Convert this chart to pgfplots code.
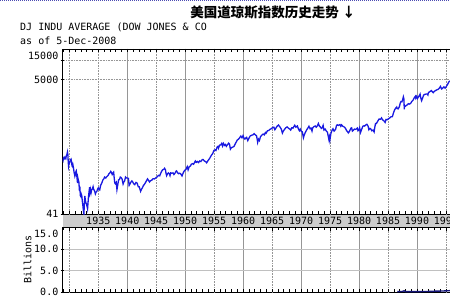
\documentclass[border=0pt]{standalone}
\usepackage{fontspec}
\usepackage{pgfplots}
\pgfplotsset{compat=1.18}
\setmainfont{DejaVu Sans Mono}
\newfontfamily\mono{DejaVu Sans Mono}
\newfontfamily\cjk{Noto Sans CJK SC}
\definecolor{gridc}{RGB}{150,150,150}
\definecolor{linec}{RGB}{25,25,225}
\definecolor{volc}{RGB}{20,20,120}
\begin{document}
\begin{tikzpicture}[x=1pt,y=1pt]
\path[use as bounding box, clip] (0,0) rectangle (450,300);
\fill[white] (0,0) rectangle (450,300);
\draw[blue!40!gray, densely dotted, line width=1pt] (0,299.6) -- (450,299.6);
% header texts
\node[anchor=center, font=\cjk\bfseries\fontsize{13.5}{14}\selectfont] at (273,288) {美国道琼斯指数历史走势 ↓};
\node[anchor=base west, inner sep=0pt, font=\mono\fontsize{10}{10}\selectfont] at (20,269.3) {DJ INDU AVERAGE (DOW JONES \& CO};
\node[anchor=base west, inner sep=0pt, font=\mono\fontsize{10}{10}\selectfont] at (20,255.5) {as of 5-Dec-2008};
% band between the two panels
\fill[black!20] (62.7,72.7) rectangle (530,85.7);
\begin{axis}[
  at={(62.7pt,85.7pt)}, anchor=south west,
  scale only axis, width=464.4pt, height=165.3pt,
  xmin=1928.86, xmax=2009,
  ymode=log, ymin=41, ymax=15000,
  axis line style={black, line width=0.8pt},
  tick align=inside, major tick length=3.5pt, minor tick length=3pt,
  tick style={black, line width=0.6pt},
  xtick={1940,1950,...,2000},
  xticklabels={1940,1950,1960,1970,1980,1990,2000},
  minor xtick={1929,1930,...,2009},
  extra x ticks={1930,1935,1945,1955,1965,1975,1985,1995,2005},
  extra x tick labels={,1935,1945,1955,1965,1975,1985,1995,2005},
  extra x tick style={major grid style={gridc, densely dotted, line width=0.6pt}},
  xmajorgrids, major grid style={gridc, line width=0.6pt},
  xticklabel style={font=\mono\fontsize{10}{10}\selectfont, anchor=center, yshift=-6.8pt},
  ytick={41,5000,10000},
  yticklabels={41,5000,{}},
  ytick pos=left,
  ymajorgrids,
  y grid style={gridc, densely dotted, line width=0.6pt},
  yticklabel style={font=\mono\fontsize{10}{10}\selectfont, inner sep=1pt, xshift=-3.2pt},
  ytick style={xshift=-2pt},
  clip=true,
]
\addplot[linec, line width=1.3pt] coordinates {
(1928.86,290) (1928.92,280) (1929.0,305) (1929.1,315) (1929.2,300) (1929.3,310) (1929.4,300) (1929.5,335) (1929.6,350) (1929.68,381) (1929.75,350) (1929.82,260) (1929.87,230) (1929.92,245) (1930.0,250) (1930.1,270) (1930.25,290) (1930.3,294) (1930.4,260) (1930.47,230) (1930.55,225) (1930.62,240) (1930.7,220) (1930.8,190) (1930.9,170) (1930.96,160) (1931.05,170) (1931.15,190) (1931.2,194) (1931.3,160) (1931.42,125) (1931.48,150) (1931.55,140) (1931.65,130) (1931.75,95) (1931.82,110) (1931.9,80) (1931.97,78) (1932.05,85) (1932.15,80) (1932.25,65) (1932.35,55) (1932.45,45) (1932.52,41.5) (1932.6,60) (1932.68,79) (1932.75,70) (1932.85,62) (1932.95,60) (1933.05,55) (1933.15,50) (1933.22,60) (1933.3,75) (1933.4,90) (1933.5,108) (1933.55,90) (1933.65,100) (1933.75,88) (1933.85,98) (1933.95,100) (1934.1,110) (1934.2,100) (1934.35,95) (1934.5,85) (1934.6,90) (1934.75,93) (1934.9,102) (1935.0,105) (1935.15,100) (1935.25,98) (1935.4,115) (1935.6,125) (1935.8,140) (1935.95,145) (1936.1,155) (1936.3,150) (1936.4,155) (1936.55,160) (1936.7,165) (1936.85,175) (1937.0,180) (1937.15,190) (1937.25,185) (1937.4,170) (1937.55,180) (1937.65,185) (1937.75,150) (1937.85,125) (1937.95,122) (1938.1,128) (1938.22,99) (1938.35,115) (1938.5,140) (1938.65,142) (1938.8,155) (1938.95,152) (1939.1,145) (1939.28,121) (1939.4,130) (1939.55,135) (1939.7,155) (1939.85,150) (1940.0,150) (1940.2,148) (1940.32,115) (1940.45,120) (1940.6,128) (1940.8,135) (1940.95,130) (1941.1,122) (1941.3,118) (1941.5,128) (1941.7,125) (1941.9,110) (1942.05,110) (1942.2,100) (1942.3,93) (1942.45,100) (1942.6,105) (1942.8,115) (1942.95,119) (1943.1,125) (1943.3,135) (1943.5,145) (1943.65,138) (1943.85,130) (1944.0,136) (1944.2,138) (1944.45,146) (1944.7,145) (1944.9,150) (1945.05,153) (1945.25,160) (1945.45,165) (1945.6,162) (1945.75,175) (1945.95,192) (1946.1,200) (1946.3,205) (1946.45,212) (1946.6,200) (1946.7,175) (1946.8,163) (1946.95,175) (1947.1,180) (1947.25,175) (1947.38,163) (1947.5,180) (1947.7,178) (1947.9,180) (1948.05,170) (1948.25,178) (1948.4,190) (1948.5,193) (1948.7,180) (1948.85,175) (1949.0,178) (1949.2,175) (1949.45,161) (1949.6,175) (1949.8,190) (1949.95,198) (1950.15,205) (1950.35,225) (1950.5,200) (1950.7,225) (1950.9,230) (1951.05,245) (1951.25,250) (1951.45,245) (1951.6,260) (1951.75,275) (1951.9,262) (1952.1,270) (1952.3,260) (1952.5,275) (1952.7,270) (1952.95,290) (1953.1,290) (1953.3,275) (1953.5,270) (1953.7,258) (1953.95,280) (1954.2,300) (1954.5,335) (1954.75,360) (1954.95,400) (1955.15,410) (1955.3,400) (1955.55,460) (1955.72,465) (1955.76,440) (1955.95,485) (1956.15,490) (1956.3,515) (1956.45,470) (1956.6,515) (1956.8,480) (1956.95,495) (1957.1,465) (1957.5,520) (1957.65,500) (1957.8,420) (1957.95,440) (1958.15,450) (1958.4,460) (1958.6,500) (1958.8,540) (1958.98,580) (1959.2,600) (1959.45,640) (1959.6,670) (1959.8,630) (1959.98,680) (1960.15,620) (1960.3,600) (1960.45,625) (1960.6,640) (1960.8,570) (1960.98,615) (1961.2,670) (1961.45,690) (1961.6,695) (1961.75,705) (1961.9,730) (1962.1,700) (1962.3,680) (1962.45,580) (1962.5,535) (1962.65,600) (1962.8,570) (1962.98,650) (1963.2,690) (1963.45,720) (1963.65,700) (1963.85,760) (1963.95,740) (1964.2,810) (1964.45,820) (1964.6,850) (1964.85,870) (1965.05,900) (1965.3,920) (1965.47,840) (1965.65,890) (1965.85,950) (1966.1,995) (1966.3,940) (1966.45,900) (1966.6,850) (1966.77,745) (1966.9,790) (1967.1,840) (1967.35,900) (1967.6,930) (1967.75,900) (1967.9,875) (1968.05,860) (1968.2,830) (1968.4,900) (1968.6,890) (1968.9,985) (1969.1,920) (1969.35,960) (1969.55,860) (1969.7,810) (1969.85,860) (1970.0,800) (1970.2,780) (1970.4,630) (1970.55,700) (1970.75,770) (1970.98,840) (1971.2,900) (1971.35,950) (1971.55,870) (1971.7,890) (1971.88,800) (1971.98,890) (1972.2,940) (1972.45,960) (1972.6,920) (1972.8,960) (1972.98,1050) (1973.15,960) (1973.35,920) (1973.5,880) (1973.65,900) (1973.8,980) (1973.95,830) (1974.15,860) (1974.35,800) (1974.55,770) (1974.72,640) (1974.8,590) (1974.9,650) (1974.97,580) (1975.15,740) (1975.35,830) (1975.5,870) (1975.7,800) (1975.95,850) (1976.1,970) (1976.25,1000) (1976.45,980) (1976.7,1010) (1976.85,950) (1976.98,1000) (1977.2,950) (1977.5,920) (1977.7,870) (1977.85,810) (1978.0,790) (1978.15,750) (1978.3,780) (1978.6,890) (1978.72,900) (1978.85,800) (1979.0,820) (1979.2,860) (1979.45,850) (1979.7,890) (1979.82,810) (1979.98,840) (1980.1,900) (1980.25,760) (1980.45,850) (1980.65,950) (1980.9,970) (1980.98,960) (1981.2,1000) (1981.35,1020) (1981.55,960) (1981.7,840) (1981.85,880) (1981.98,875) (1982.2,810) (1982.4,830) (1982.6,777) (1982.7,900) (1982.85,1050) (1983.0,1050) (1983.2,1130) (1983.45,1230) (1983.7,1220) (1983.88,1280) (1984.05,1200) (1984.3,1150) (1984.5,1090) (1984.65,1210) (1984.85,1200) (1985.0,1230) (1985.25,1270) (1985.5,1330) (1985.75,1340) (1985.95,1540) (1986.15,1720) (1986.3,1800) (1986.5,1890) (1986.6,1780) (1986.75,1770) (1986.95,1900) (1987.1,2160) (1987.25,2300) (1987.4,2280) (1987.55,2500) (1987.65,2720) (1987.75,2500) (1987.8,1740) (1987.85,1940) (1987.98,1940) (1988.15,2000) (1988.35,2050) (1988.5,2130) (1988.7,2100) (1988.9,2150) (1989.1,2300) (1989.3,2400) (1989.5,2600) (1989.65,2720) (1989.75,2790) (1989.8,2600) (1989.95,2750) (1990.07,2560) (1990.25,2700) (1990.45,2900) (1990.53,2999) (1990.65,2620) (1990.8,2370) (1990.98,2630) (1991.15,2900) (1991.35,2970) (1991.55,3000) (1991.75,3010) (1991.88,2900) (1991.98,3170) (1992.2,3260) (1992.45,3400) (1992.6,3300) (1992.8,3150) (1992.98,3300) (1993.2,3400) (1993.45,3500) (1993.65,3550) (1993.85,3700) (1994.05,3950) (1994.25,3600) (1994.45,3720) (1994.65,3880) (1994.85,3700) (1994.98,3830) (1995.15,4050) (1995.35,4350) (1995.5,4650) (1995.65,4750) (1995.8,4830) (1995.95,5100) (1996.1,5400)
};
\end{axis}
\node[anchor=north east, inner sep=1pt, font=\mono\fontsize{10}{10}\selectfont] at (59.5,249.5) {15000};
\begin{axis}[
  at={(62.7pt,7.7pt)}, anchor=south west,
  scale only axis, width=464.4pt, height=65pt,
  xmin=1928.86, xmax=2009,
  ymin=0, ymax=15.1,
  axis line style={black, line width=0.8pt},
  tick align=inside, major tick length=3.5pt, minor tick length=3pt,
  tick style={black, line width=0.6pt},
  xtick={1940,1950,...,2000},
  xticklabels={},
  minor xtick={1929,1930,...,2009},
  extra x ticks={1930,1935,1945,1955,1965,1975,1985,1995,2005},
  extra x tick labels={},
  extra x tick style={major grid style={gridc, densely dotted, line width=0.6pt}},
  xmajorgrids, major grid style={gridc, line width=0.6pt},
  ytick={0,5,10},
  yticklabels={0.0,5.0,10.0},
  ytick pos=left,
  ymajorgrids,
  y grid style={gridc!60, line width=0.6pt},
  yticklabel style={font=\mono\fontsize{10}{10}\selectfont, inner sep=1pt, xshift=-3.2pt},
  ytick style={xshift=-2pt},
  ylabel={Billions},
  ylabel style={font=\mono\fontsize{10}{10}\selectfont},
  every axis y label/.style={at={(-35.2pt,32.5pt)}, rotate=90, anchor=center},
]
\addplot[volc, line width=1.4pt] coordinates {
(1986.6,0.14) (1987.0,0.18) (1987.5,0.20) (1987.8,0.35) (1988.0,0.17) (1988.5,0.16) (1989.0,0.17) (1989.5,0.17) (1990.0,0.16) (1990.5,0.17) (1991.0,0.18) (1991.5,0.18) (1992.0,0.20) (1992.5,0.21) (1993.0,0.26) (1993.5,0.27) (1994.0,0.29) (1994.5,0.30) (1995.0,0.34) (1995.5,0.36) (1996.0,0.42)
};
\end{axis}
\node[anchor=north east, inner sep=1pt, font=\mono\fontsize{10}{10}\selectfont] at (59.5,71.6) {15.0};
\end{tikzpicture}
\end{document}
